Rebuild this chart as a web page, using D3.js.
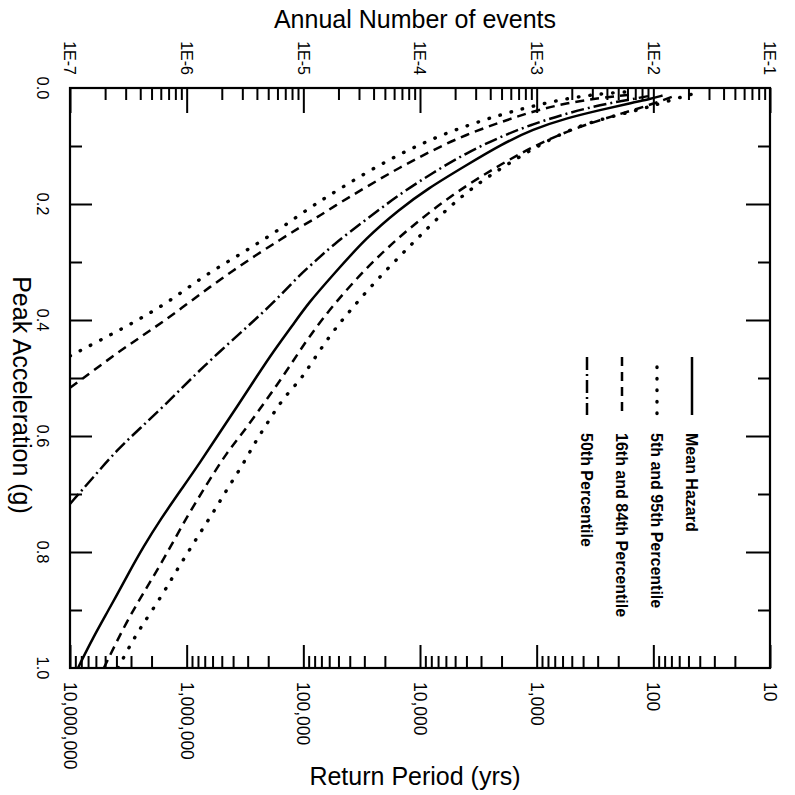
<!DOCTYPE html>
<html><head><meta charset="utf-8">
<script src="https://cdn.jsdelivr.net/npm/d3@7/dist/d3.min.js"></script>
<style>body{margin:0;background:#fff}text{font-family:"Liberation Sans",Arial,Helvetica,sans-serif;fill:#000}</style>
</head><body>
<svg id="c" width="795" height="795"></svg>
<script>
// ---- data ----
const annualTicks = [1e-7,1e-6,1e-5,1e-4,1e-3,1e-2,1e-1];
const annualLabels = ["1E-7","1E-6","1E-5","1E-4","1E-3","1E-2","1E-1"];
const periodTicks = [1e7,1e6,1e5,1e4,1e3,100,10];
const periodLabels = ["10,000,000","1,000,000","100,000","10,000","1,000","100","10"];
const accelTicks = [0,0.2,0.4,0.6,0.8,1.0];
const accelLabels = ["0.0","0.2","0.4","0.6","0.8","1.0"];
const accelMinor = [0.1,0.3,0.5,0.7,0.9];
const legendLabels = ["Mean Hazard","5th and 95th Percentile","16th and 84th Percentile","50th Percentile"];

// [annual number of events, peak acceleration g]
const meanHazard = [[1.2e-2,0.013],[9.4e-3,0.019],[6.7e-3,0.025],[3.5e-3,0.038],[1.8e-3,0.052],[9.3e-4,0.071],[4.9e-4,0.098],[2.5e-4,0.133],[1.15e-4,0.174],[6.7e-5,0.209],[3.5e-5,0.257],[1.8e-5,0.322],[1.1e-5,0.371],[8.1e-6,0.409],[5.5e-6,0.455],[4.0e-6,0.497],[2.86e-6,0.542],[1.82e-6,0.601],[1.3e-6,0.646],[9.3e-7,0.688],[5.9e-7,0.745],[4.23e-7,0.792],[3.27e-7,0.832],[2.2e-7,0.896],[1.57e-7,0.948],[1.17e-7,1.0]];
const pct5 = [[6.5e-3,0.006],[3.5e-3,0.010],[1.8e-3,0.018],[9.3e-4,0.031],[4.9e-4,0.046],[2.5e-4,0.065],[1.29e-4,0.087],[6.7e-5,0.114],[3.5e-5,0.145],[1.8e-5,0.181],[1.34e-5,0.197],[8.8e-6,0.222],[5.7e-6,0.249],[3.7e-6,0.273],[2.45e-6,0.295],[1.58e-6,0.318],[1.03e-6,0.344],[6.8e-7,0.370],[4.4e-7,0.393],[2.85e-7,0.414],[1.81e-7,0.435],[1.0e-7,0.462]];
const pct95 = [[2.2e-2,0.010],[1.4e-2,0.021],[9.4e-3,0.032],[6.7e-3,0.040],[4.26e-3,0.050],[2.22e-3,0.066],[1.07e-3,0.097],[5.57e-4,0.132],[3.27e-4,0.162],[1.81e-4,0.203],[1.0e-4,0.255],[6.7e-5,0.290],[3.95e-5,0.338],[2.51e-5,0.384],[1.69e-5,0.426],[1.1e-5,0.483],[9.35e-6,0.504],[6.7e-6,0.535],[4.98e-6,0.576],[3.85e-6,0.611],[2.98e-6,0.652],[2.26e-6,0.689],[1.75e-6,0.727],[1.35e-6,0.762],[1.03e-6,0.800],[7.9e-7,0.837],[6.15e-7,0.875],[3.98e-7,0.932],[3.27e-7,0.961],[2.58e-7,1.0]];
const pct16 = [[6.7e-3,0.011],[3.5e-3,0.017],[1.8e-3,0.026],[9.3e-4,0.040],[4.9e-4,0.059],[2.5e-4,0.080],[1.29e-4,0.107],[6.7e-5,0.137],[3.5e-5,0.170],[1.8e-5,0.205],[1.34e-5,0.222],[9.35e-6,0.240],[6.3e-6,0.262],[4.0e-6,0.287],[2.49e-6,0.315],[1.58e-6,0.343],[1.0e-6,0.373],[6.27e-7,0.403],[3.98e-7,0.430],[2.53e-7,0.457],[1.57e-7,0.488],[1.0e-7,0.517]];
const pct84 = [[1.6e-2,0.012],[9.4e-3,0.029],[6.7e-3,0.038],[3.5e-3,0.055],[1.8e-3,0.075],[9.3e-4,0.101],[4.9e-4,0.132],[2.5e-4,0.168],[1.29e-4,0.209],[6.7e-5,0.256],[3.5e-5,0.309],[1.8e-5,0.374],[1.1e-5,0.431],[8.1e-6,0.472],[5.9e-6,0.513],[4.26e-6,0.553],[3.04e-6,0.594],[2.2e-6,0.629],[1.49e-6,0.683],[1.0e-6,0.740],[6.8e-7,0.802],[4.57e-7,0.861],[3.08e-7,0.918],[1.95e-7,1.0]];
const pct50 = [[9.0e-3,0.014],[6.7e-3,0.019],[3.5e-3,0.029],[1.8e-3,0.044],[9.3e-4,0.062],[4.9e-4,0.084],[2.5e-4,0.112],[1.29e-4,0.146],[6.7e-5,0.183],[3.5e-5,0.226],[1.8e-5,0.270],[1.14e-5,0.307],[9.35e-6,0.322],[5.5e-6,0.371],[3.29e-6,0.412],[1.93e-6,0.454],[1.13e-6,0.498],[6.8e-7,0.543],[3.98e-7,0.587],[2.53e-7,0.624],[1.57e-7,0.672],[1.0e-7,0.717]];

// ---- layout ----
const svg = d3.select("#c");
const L=70, R=770, T=88, B=668;
const x = d3.scaleLog().domain([1e-7,1e-1]).range([L,R]);
const xp = d3.scaleLog().domain([1e7,10]).range([L,R]);
const y = d3.scaleLinear().domain([0,1]).range([T,B]);

function minors(lo, hi){const o=[];for(let e=lo;e<hi;e++){for(let k=2;k<=9;k++)o.push(+(k*Math.pow(10,e)).toPrecision(3));}return o;}

function ax(axis, tr){
  const g = svg.append("g").attr("transform", tr).call(axis);
  g.select(".domain").remove();
  g.selectAll(".tick line").attr("stroke","#000").attr("stroke-width",2);
  g.selectAll(".tick text").remove();
  return g;
}
ax(d3.axisTop(x).tickValues(annualTicks).tickSize(-25), `translate(0,${T})`);
ax(d3.axisTop(x).tickValues(minors(-7,-1)).tickSize(-12), `translate(0,${T})`);
ax(d3.axisBottom(xp).tickValues(periodTicks).tickSize(-23), `translate(0,${B})`);
ax(d3.axisBottom(xp).tickValues(minors(1,7)).tickSize(-12), `translate(0,${B})`);
ax(d3.axisLeft(y).tickValues(accelTicks.slice(1,-1)).tickSize(-22), `translate(${L},0)`);
ax(d3.axisLeft(y).tickValues(accelMinor).tickSize(-12), `translate(${L},0)`);
ax(d3.axisRight(y).tickValues(accelTicks.slice(1,-1)).tickSize(-24), `translate(${R},0)`);
ax(d3.axisRight(y).tickValues(accelMinor).tickSize(-12), `translate(${R},0)`);

svg.append("rect").attr("x",L).attr("y",T).attr("width",R-L).attr("height",B-T)
  .attr("fill","none").attr("stroke","#000").attr("stroke-width",2.2);

// tick labels (rotated)
svg.selectAll(".tl").data(annualTicks).join("text")
  .attr("transform",(d)=>`translate(${x(d)},75) rotate(90)`)
  .attr("text-anchor","end").attr("dy","0.35em").attr("font-size",16)
  .text((d,i)=>annualLabels[i]);
svg.selectAll(".bl").data(periodTicks).join("text")
  .attr("transform",(d)=>`translate(${xp(d)},682) rotate(90)`)
  .attr("text-anchor","start").attr("dy","0.35em").attr("font-size",17.5)
  .text((d,i)=>periodLabels[i]);
svg.selectAll(".ll").data(accelTicks).join("text")
  .attr("transform",(d)=>`translate(43,${y(d)}) rotate(90)`)
  .attr("text-anchor","middle").attr("dy","0.35em").attr("font-size",16.5)
  .text((d,i)=>accelLabels[i]);

// titles
svg.append("text").attr("x",415).attr("y",28).attr("text-anchor","middle").attr("font-size",25).text("Annual Number of events");
svg.append("text").attr("x",415).attr("y",785).attr("text-anchor","middle").attr("font-size",25).text("Return Period (yrs)");
svg.append("text").attr("transform","translate(22,395) rotate(90)").attr("text-anchor","middle").attr("dy","0.35em").attr("font-size",25).text("Peak Acceleration (g)");

// curves
svg.append("clipPath").attr("id","clip").append("rect").attr("x",L).attr("y",T).attr("width",R-L).attr("height",B-T);
const line = d3.line().x(d=>x(d[0])).y(d=>y(d[1])).curve(d3.curveBasis);
const styles = {
  solid:{dash:null,w:2.5,cap:"butt"},
  dot:{dash:"0.5,11",w:3.4,cap:"round"},
  dash:{dash:"9,6",w:2.5,cap:"butt"},
  dashdot:{dash:"13,4,2,4",w:2.5,cap:"butt"}
};
const series = [
  {d:meanHazard,s:"solid"},{d:pct5,s:"dot"},{d:pct95,s:"dot"},
  {d:pct16,s:"dash"},{d:pct84,s:"dash"},{d:pct50,s:"dashdot"}
];
const cg = svg.append("g").attr("clip-path","url(#clip)");
series.forEach(o=>{
  const st = styles[o.s];
  const data = o.d.slice().sort((a,b)=>a[0]-b[0]);
  cg.append("path").attr("d",line(data)).attr("fill","none").attr("stroke","#000")
    .attr("stroke-width",st.w).attr("stroke-dasharray",st.dash).attr("stroke-linecap",st.cap);
});

// legend
const legStyles = ["solid","dot","dash","dashdot"];
legendLabels.forEach((lab,i)=>{
  const cx = 692 - 35*i;
  const st = styles[legStyles[i]];
  svg.append("line").attr("x1",cx).attr("x2",cx).attr("y1",i===1?367:357).attr("y2",415)
    .attr("stroke","#000").attr("stroke-width",st.w).attr("stroke-dasharray",st.dash).attr("stroke-linecap",st.cap);
  svg.append("text").attr("transform",`translate(${cx},433) rotate(90)`)
    .attr("text-anchor","start").attr("dy","0.35em").attr("font-size",16).attr("font-weight","bold").text(lab);
});
</script>
</body></html>
